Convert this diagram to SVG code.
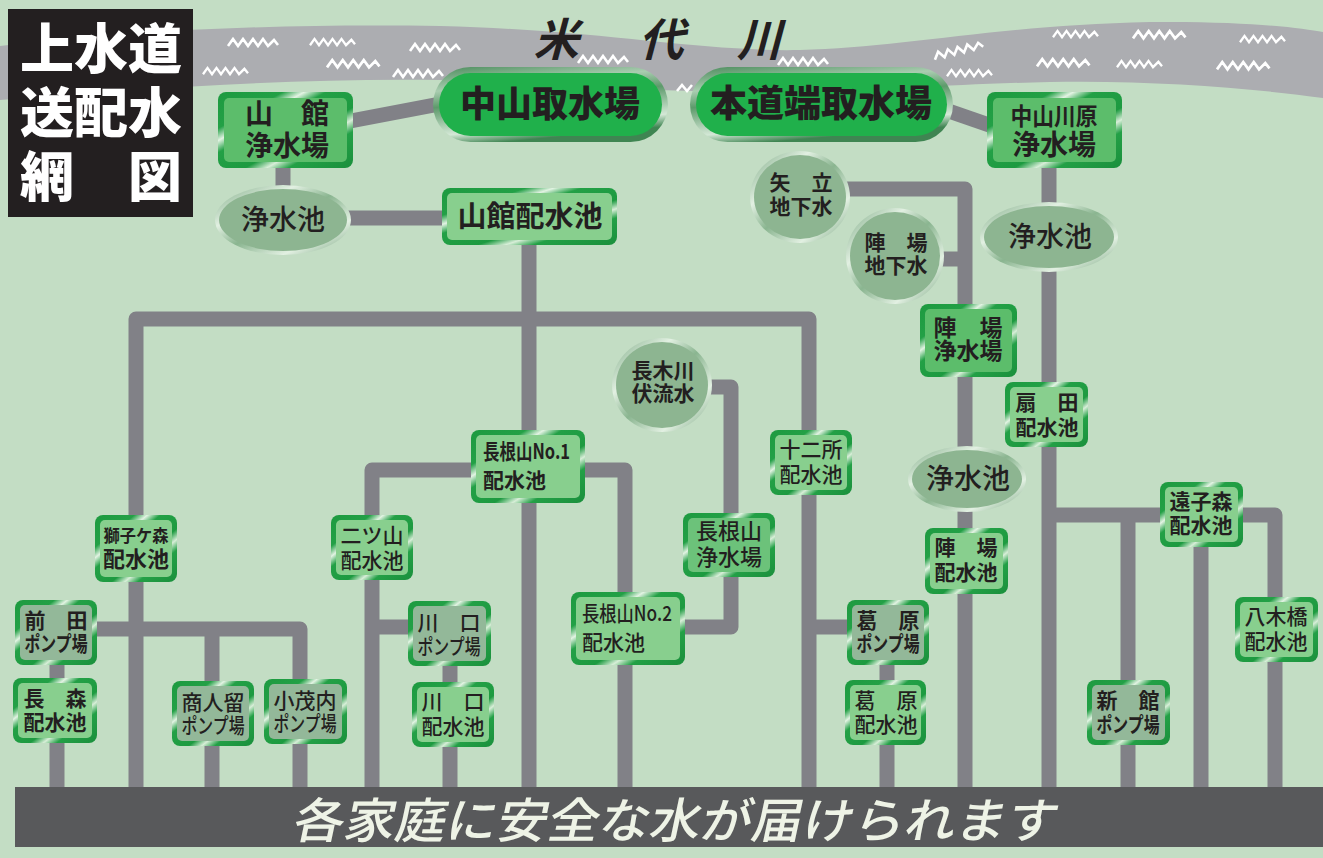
<svg xmlns="http://www.w3.org/2000/svg" xmlns:xlink="http://www.w3.org/1999/xlink" width="1323" height="858" viewBox="0 0 1323 858">
<style>
.pipe{fill:none;stroke:#818187;stroke-width:15;stroke-linejoin:round}
.t{font-family:"Noto Sans CJK JP","Noto Sans CJK SC",sans-serif;fill:#231f20;text-anchor:middle}
.b{font-weight:700}
.m{font-weight:500}
.k{font-weight:900}
.s21{font-size:21px}
.wave{fill:none;stroke:#ffffff;stroke-width:2.6;stroke-linejoin:miter}
.title{font-family:"Noto Sans CJK JP",sans-serif;font-weight:900;fill:#ffffff;font-size:54px;text-anchor:middle}
.jo{fill:#5cbd6b}
.hai{fill:#88cf8e}
.pump{fill:#93b899}
.pool{fill:#8db591}
</style>
<defs>
<linearGradient id="frameG" x1="0" y1="0" x2="1" y2="1">
<stop offset="0" stop-color="#1d9a40"/>
<stop offset="0.24" stop-color="#23a046"/>
<stop offset="0.32" stop-color="#e3f3e3"/>
<stop offset="0.4" stop-color="#23a046"/>
<stop offset="0.6" stop-color="#1d9a40"/>
<stop offset="0.68" stop-color="#d8eed8"/>
<stop offset="0.76" stop-color="#23a046"/>
<stop offset="1" stop-color="#1a8f3c"/>
</linearGradient>
<linearGradient id="rimG" x1="0" y1="0" x2="1" y2="1">
<stop offset="0" stop-color="#7aa882"/>
<stop offset="0.3" stop-color="#e2f0e2"/>
<stop offset="0.5" stop-color="#8ab590"/>
<stop offset="0.75" stop-color="#e2f0e2"/>
<stop offset="1" stop-color="#6e9e76"/>
</linearGradient>
<linearGradient id="pillG" x1="0" y1="0" x2="0.3" y2="1">
<stop offset="0" stop-color="#4b8c5c"/>
<stop offset="0.3" stop-color="#a9cdb0"/>
<stop offset="0.5" stop-color="#5d9a6b"/>
<stop offset="0.85" stop-color="#d4e8d6"/>
<stop offset="1" stop-color="#3f8552"/>
</linearGradient>
<path id="w" class="wave" d="M0,8 L5,1 L10,8 L15,1 L20,8 L25,1 L30,8 L35,1 L40,8 L46,2 L50,7"/>
</defs>

<rect width="1323" height="858" fill="#c3ddc4"/>

<g id="river">
<path d="M0,46 C150,28 300,24 440,26 C600,30 700,52 800,50 C900,48 1000,25 1150,22 C1250,21 1300,28 1323,32 L1323,98 C1250,88 1150,80 1050,82 C950,84 900,90 800,92 C650,94 550,82 440,80 C300,78 150,88 0,100 Z" fill="#acadb1"/>
<use xlink:href="#w" transform="translate(228,38)"/>
<use xlink:href="#w" transform="translate(310,38) scale(0.9)"/>
<use xlink:href="#w" transform="translate(203,67) scale(0.9)"/>
<use xlink:href="#w" transform="translate(327,59) scale(1.05)"/>
<use xlink:href="#w" transform="translate(410,43)"/>
<use xlink:href="#w" transform="translate(393,69)"/>
<use xlink:href="#w" transform="translate(578,55)"/>
<use xlink:href="#w" transform="translate(778,57)"/>
<path class="wave" d="M677,91 L682,85 L687,91 L692,85"/>
<use xlink:href="#w" transform="translate(933,52) rotate(-14)"/>
<use xlink:href="#w" transform="translate(947,69) scale(0.9)"/>
<use xlink:href="#w" transform="translate(1053,30) scale(0.9)"/>
<use xlink:href="#w" transform="translate(1037,58) scale(1.05)"/>
<use xlink:href="#w" transform="translate(1133,30) scale(1.05)"/>
<use xlink:href="#w" transform="translate(1117,60) scale(0.9)"/>
<use xlink:href="#w" transform="translate(1240,35) scale(0.9)"/>
<use xlink:href="#w" transform="translate(1217,61) scale(1.05)"/>
<g class="t b" style="font-size:45px">
<text transform="translate(556,56) skewX(-15)">米</text>
<text transform="translate(661,56) skewX(-15)">代</text>
<text transform="translate(759,56) skewX(-15)">川</text>
</g>
</g>

<g id="title">
<rect x="8" y="9" width="185" height="208" fill="#231f20"/>
<text class="title" x="101" y="69">上水道</text>
<text class="title" x="101" y="133">送配水</text>
<text class="title" x="101" y="197">網　図</text>
</g>

<g id="connectors">
<path class="pipe" d="M340,123 L445,103"/>
<path class="pipe" d="M283,165 V190"/>
<path class="pipe" d="M345,218 H445"/>
<path class="pipe" d="M529,243 V787"/>
<path class="pipe" d="M136,787 V319 H809 V432"/>
<path class="pipe" d="M809,493 V787"/>
<path class="pipe" d="M809,627 H850"/>
<path class="pipe" d="M887,663 V682"/>
<path class="pipe" d="M887,743 V787"/>
<path class="pipe" d="M372,787 V470 H625 V594"/>
<path class="pipe" d="M372,627 H410"/>
<path class="pipe" d="M450,664 V684"/>
<path class="pipe" d="M450,745 V787"/>
<path class="pipe" d="M625,663 V787"/>
<path class="pipe" d="M705,387 H731 V627 H683"/>
<path class="pipe" d="M95,629 H300 V681"/>
<path class="pipe" d="M212,629 V683"/>
<path class="pipe" d="M212,744 V787"/>
<path class="pipe" d="M300,742 V787"/>
<path class="pipe" d="M57,663 V680"/>
<path class="pipe" d="M57,741 V787"/>
<path class="pipe" d="M940,108 L992,126"/>
<path class="pipe" d="M1049,166 V204"/>
<path class="pipe" d="M1049,270 V787"/>
<path class="pipe" d="M1049,515 H1275 V600"/>
<path class="pipe" d="M1275,660 V787"/>
<path class="pipe" d="M1128,515 V682"/>
<path class="pipe" d="M1128,743 V787"/>
<path class="pipe" d="M1201,545 V787"/>
<path class="pipe" d="M845,189 H965 V306"/>
<path class="pipe" d="M965,375 V449"/>
<path class="pipe" d="M965,510 V530"/>
<path class="pipe" d="M965,592 V787"/>
<path class="pipe" d="M940,259 H965"/>
</g>

<g id="n-nakayama-intake">
<rect x="433" y="67" width="235" height="75" rx="37.5" fill="url(#pillG)"/>
<rect x="439" y="73" width="223" height="63" rx="31.5" fill="#20b04b"/>
<text class="t k" x="550" y="117" style="font-size:36px">中山取水場</text>
</g>
<g id="n-hondoubata-intake">
<rect x="690" y="67" width="263" height="75" rx="37.5" fill="url(#pillG)"/>
<rect x="696" y="73" width="251" height="63" rx="31.5" fill="#20b04b"/>
<text class="t k" x="821" y="117" style="font-size:37px">本道端取水場</text>
</g>

<g id="n-yamadate-jousui">
<rect x="218" y="92" width="135" height="76" rx="8" fill="url(#frameG)"/>
<rect x="224" y="98" width="123" height="64" rx="5" class="jo"/>
<text class="t b" style="font-size:28px"><tspan x="287" y="124">山　館</tspan><tspan x="287" y="156">浄水場</tspan></text>
</g>
<g id="n-pool-left">
<ellipse cx="283" cy="220" rx="68" ry="35" fill="url(#rimG)"/>
<ellipse cx="283" cy="220" rx="64" ry="31" class="pool"/>
<text class="t m" x="283" y="230" style="font-size:28px">浄水池</text>
</g>
<g id="n-yamadate-haisui">
<rect x="442" y="188" width="175" height="57" rx="8" fill="url(#frameG)"/>
<rect x="447" y="193" width="165" height="47" rx="5" class="hai"/>
<text class="t b" x="530" y="227" style="font-size:29px">山館配水池</text>
</g>
<g id="n-nakayamakawara-jousui">
<rect x="987" y="92" width="135" height="76" rx="8" fill="url(#frameG)"/>
<rect x="993" y="98" width="123" height="64" rx="5" class="jo"/>
<text class="t b"><tspan x="1054" y="125" style="font-size:24px" textLength="87" lengthAdjust="spacingAndGlyphs">中山川原</tspan><tspan x="1054" y="155" style="font-size:28px">浄水場</tspan></text>
</g>
<g id="n-pool-right">
<ellipse cx="1049" cy="237" rx="69" ry="35" fill="url(#rimG)"/>
<ellipse cx="1049" cy="237" rx="65" ry="31" class="pool"/>
<text class="t m" x="1050" y="247" style="font-size:28px">浄水池</text>
</g>
<g id="n-yatate-ground">
<ellipse cx="800" cy="197" rx="50" ry="46" fill="url(#rimG)"/>
<ellipse cx="800" cy="197" rx="46" ry="42" class="pool"/>
<text class="t b s21"><tspan x="801" y="190">矢　立</tspan><tspan x="801" y="214">地下水</tspan></text>
</g>
<g id="n-jinba-ground">
<ellipse cx="895" cy="256" rx="49" ry="48" fill="url(#rimG)"/>
<ellipse cx="895" cy="256" rx="45" ry="44" class="pool"/>
<text class="t b s21"><tspan x="896" y="250">陣　場</tspan><tspan x="896" y="273">地下水</tspan></text>
</g>
<g id="n-jinba-jousui">
<rect x="920" y="304" width="97" height="73" rx="8" fill="url(#frameG)"/>
<rect x="925" y="309" width="87" height="63" rx="5" class="jo"/>
<text class="t b" style="font-size:23px"><tspan x="968" y="336">陣　場</tspan><tspan x="968" y="359">浄水場</tspan></text>
</g>
<g id="n-ougita">
<rect x="1005" y="382" width="83" height="65" rx="8" fill="url(#frameG)"/>
<rect x="1010" y="387" width="73" height="55" rx="5" class="hai"/>
<text class="t b s21"><tspan x="1047" y="410">扇　田</tspan><tspan x="1047" y="435">配水池</tspan></text>
</g>
<g id="n-pool-mid">
<ellipse cx="967" cy="479" rx="59" ry="33" fill="url(#rimG)"/>
<ellipse cx="967" cy="479" rx="55" ry="29" class="pool"/>
<text class="t m" x="968" y="489" style="font-size:28px">浄水池</text>
</g>
<g id="n-jinba-haisui">
<rect x="925" y="528" width="83" height="66" rx="8" fill="url(#frameG)"/>
<rect x="930" y="533" width="73" height="56" rx="5" class="hai"/>
<text class="t b s21"><tspan x="966" y="555">陣　場</tspan><tspan x="966" y="580">配水池</tspan></text>
</g>
<g id="n-juunisho">
<rect x="770" y="430" width="82" height="65" rx="8" fill="url(#frameG)"/>
<rect x="775" y="435" width="72" height="55" rx="5" class="hai"/>
<text class="t m s21"><tspan x="811" y="457">十二所</tspan><tspan x="811" y="482">配水池</tspan></text>
</g>
<g id="n-nagikigawa">
<ellipse cx="662" cy="385" rx="50" ry="47" fill="url(#rimG)"/>
<ellipse cx="662" cy="385" rx="46" ry="43" class="pool"/>
<text class="t b s21"><tspan x="663" y="378">長木川</tspan><tspan x="663" y="401">伏流水</tspan></text>
</g>
<g id="n-naganeyama-jousui">
<rect x="683" y="513" width="92" height="64" rx="8" fill="url(#frameG)"/>
<rect x="688" y="518" width="82" height="54" rx="5" style="fill:#6cc27a"/>
<text class="t m" style="font-size:22px"><tspan x="729" y="539">長根山</tspan><tspan x="729" y="565">浄水場</tspan></text>
</g>
<g id="n-naganeyama1">
<rect x="471" y="430" width="114" height="73" rx="8" fill="url(#frameG)"/>
<rect x="476" y="435" width="104" height="63" rx="5" class="hai"/>
<text class="t b s21" style="text-anchor:start"><tspan x="483" y="459" textLength="87" lengthAdjust="spacingAndGlyphs">長根山No.1</tspan><tspan x="483" y="488">配水池</tspan></text>
</g>
<g id="n-naganeyama2">
<rect x="571" y="592" width="114" height="73" rx="8" fill="url(#frameG)"/>
<rect x="576" y="597" width="104" height="63" rx="5" class="hai"/>
<text class="t m s21" style="text-anchor:start"><tspan x="582" y="621" textLength="90" lengthAdjust="spacingAndGlyphs">長根山No.2</tspan><tspan x="582" y="650">配水池</tspan></text>
</g>
<g id="n-futatsuyama">
<rect x="331" y="515" width="82" height="65" rx="8" fill="url(#frameG)"/>
<rect x="336" y="520" width="72" height="55" rx="5" class="hai"/>
<text class="t m s21"><tspan x="372" y="543">二ツ山</tspan><tspan x="372" y="568">配水池</tspan></text>
</g>
<g id="n-kawaguchi-pump">
<rect x="408" y="601" width="83" height="65" rx="8" fill="url(#frameG)"/>
<rect x="413" y="606" width="73" height="55" rx="5" class="pump"/>
<text class="t m s21"><tspan x="449" y="630">川　口</tspan><tspan x="449" y="654" textLength="63" lengthAdjust="spacingAndGlyphs">ポンプ場</tspan></text>
</g>
<g id="n-kawaguchi-haisui">
<rect x="412" y="682" width="82" height="65" rx="8" fill="url(#frameG)"/>
<rect x="417" y="687" width="72" height="55" rx="5" class="hai"/>
<text class="t m s21"><tspan x="453" y="709">川　口</tspan><tspan x="453" y="734">配水池</tspan></text>
</g>
<g id="n-shishigamori">
<rect x="95" y="515" width="82" height="67" rx="8" fill="url(#frameG)"/>
<rect x="100" y="520" width="72" height="57" rx="5" class="hai"/>
<text class="t b"><tspan x="136" y="542" style="font-size:17px" textLength="65" lengthAdjust="spacingAndGlyphs">獅子ケ森</tspan><tspan x="136" y="567" style="font-size:22px">配水池</tspan></text>
</g>
<g id="n-maeda-pump">
<rect x="15" y="600" width="82" height="65" rx="8" fill="url(#frameG)"/>
<rect x="20" y="605" width="72" height="55" rx="5" class="pump"/>
<text class="t b s21"><tspan x="56" y="628">前　田</tspan><tspan x="56" y="651" textLength="63" lengthAdjust="spacingAndGlyphs">ポンプ場</tspan></text>
</g>
<g id="n-nagamori">
<rect x="13" y="678" width="84" height="65" rx="8" fill="url(#frameG)"/>
<rect x="18" y="683" width="74" height="55" rx="5" class="hai"/>
<text class="t b s21"><tspan x="55" y="706">長　森</tspan><tspan x="55" y="730">配水池</tspan></text>
</g>
<g id="n-akindome-pump">
<rect x="172" y="681" width="82" height="65" rx="8" fill="url(#frameG)"/>
<rect x="177" y="686" width="72" height="55" rx="5" class="pump"/>
<text class="t m s21"><tspan x="213" y="710">商人留</tspan><tspan x="213" y="733" textLength="63" lengthAdjust="spacingAndGlyphs">ポンプ場</tspan></text>
</g>
<g id="n-komonai-pump">
<rect x="264" y="679" width="83" height="65" rx="8" fill="url(#frameG)"/>
<rect x="269" y="684" width="73" height="55" rx="5" class="pump"/>
<text class="t m s21"><tspan x="305" y="708">小茂内</tspan><tspan x="305" y="731" textLength="63" lengthAdjust="spacingAndGlyphs">ポンプ場</tspan></text>
</g>
<g id="n-kuzuhara-pump">
<rect x="847" y="600" width="82" height="65" rx="8" fill="url(#frameG)"/>
<rect x="852" y="605" width="72" height="55" rx="5" class="pump"/>
<text class="t b s21"><tspan x="888" y="628">葛　原</tspan><tspan x="888" y="651" textLength="63" lengthAdjust="spacingAndGlyphs">ポンプ場</tspan></text>
</g>
<g id="n-kuzuhara-haisui">
<rect x="845" y="680" width="81" height="65" rx="8" fill="url(#frameG)"/>
<rect x="850" y="685" width="71" height="55" rx="5" class="hai"/>
<text class="t m s21"><tspan x="886" y="708">葛　原</tspan><tspan x="886" y="732">配水池</tspan></text>
</g>
<g id="n-shindate-pump">
<rect x="1087" y="680" width="83" height="65" rx="8" fill="url(#frameG)"/>
<rect x="1092" y="685" width="73" height="55" rx="5" class="pump"/>
<text class="t b s21"><tspan x="1128" y="708">新　館</tspan><tspan x="1128" y="732" textLength="63" lengthAdjust="spacingAndGlyphs">ポンプ場</tspan></text>
</g>
<g id="n-tookomori">
<rect x="1160" y="482" width="83" height="65" rx="8" fill="url(#frameG)"/>
<rect x="1165" y="487" width="73" height="55" rx="5" class="hai"/>
<text class="t b s21"><tspan x="1201" y="509">遠子森</tspan><tspan x="1201" y="533">配水池</tspan></text>
</g>
<g id="n-yagihashi">
<rect x="1235" y="597" width="83" height="65" rx="8" fill="url(#frameG)"/>
<rect x="1240" y="602" width="73" height="55" rx="5" class="hai"/>
<text class="t m s21"><tspan x="1276" y="624">八木橋</tspan><tspan x="1276" y="649">配水池</tspan></text>
</g>

<g id="banner">
<rect x="15" y="787" width="1308" height="60" fill="#58595b"/>
<text transform="translate(673,838) skewX(-12)" style="font-family:'Noto Sans CJK JP',sans-serif;font-size:48px;font-weight:500;fill:#eef3e6;text-anchor:middle" textLength="764" lengthAdjust="spacingAndGlyphs">各家庭に安全な水が届けられます</text>
</g>
</svg>
